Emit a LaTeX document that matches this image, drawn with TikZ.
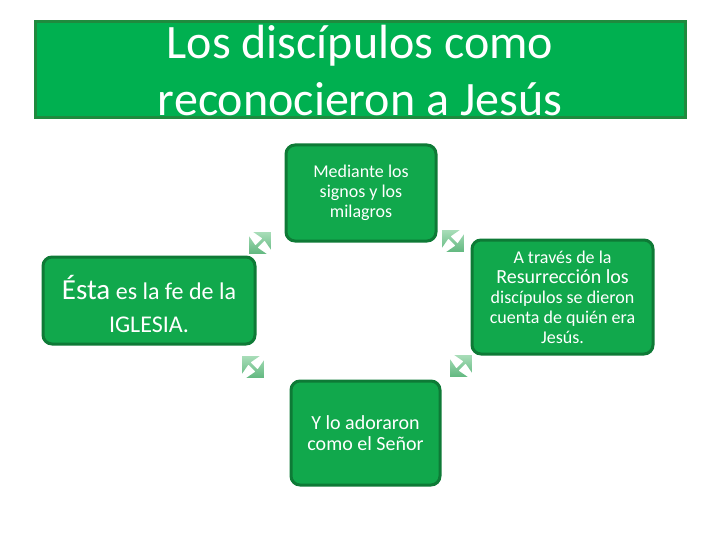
\documentclass[tikz,border=0pt]{standalone}
\usepackage{fontspec}
\setmainfont{Carlito}
\usetikzlibrary{shapes.arrows}
\definecolor{titlegreen}{HTML}{00B050}
\definecolor{titleborder}{HTML}{1F8A3E}
\definecolor{boxgreen}{HTML}{11A84C}
\definecolor{boxborder}{HTML}{0E7A36}
\definecolor{arrlight}{HTML}{A8DDB8}
\definecolor{arrdark}{HTML}{62B880}
\tikzset{
  box/.style={draw=boxborder, line width=3pt, fill=boxgreen, rounded corners=9pt,
    text=white, align=center, inner sep=2pt},
  cyc/.style={double arrow, double arrow head extend=1.5pt, double arrow head indent=2pt, minimum width=25pt,
    minimum height=31pt, inner sep=0pt, draw=none, top color=arrlight, bottom color=arrdark}
}
\begin{document}
\begin{tikzpicture}[x=1pt,y=-1pt]
\useasboundingbox (0,0) rectangle (720,540);
\fill[white] (0,0) rectangle (720,540);
% title
\node[draw=titleborder, line width=3pt, fill=titlegreen, minimum width=650pt, minimum height=96pt, inner sep=0pt] (title) at (360,70) {};
\node[text=white, align=center, font=\fontsize{48}{57}\selectfont] (titletext) at (360,70.5) {Los discípulos como\\reconocieron a Jesús};
% boxes
\node[box, minimum width=150pt, minimum height=96pt, font=\fontsize{18}{20}\selectfont] (top) at (361,193) {Mediante los\\signos y los\\milagros};
\node[box, minimum width=181pt, minimum height=114pt, font=\fontsize{18}{20}\selectfont] (right) at (562.5,297) {A través de la\\{\fontsize{20}{20}\selectfont Resurrección los}\\discípulos se dieron\\cuenta de quién era\\Jesús.};
\node[box, minimum width=212pt, minimum height=87pt] (left) at (149,300.5) {};
\node[text=white, align=center, font=\fontsize{24}{33}\selectfont] (lefttext) at (149,304) {{\fontsize{29}{33}\selectfont Ésta} es la fe de la\\IGLESIA.};
\node[box, minimum width=149pt, minimum height=104pt, font=\fontsize{20}{21.5}\selectfont] (bottom) at (365.5,433) {Y lo adoraron\\como el Señor};
% cycle arrows
\node[cyc, rotate=45] (a1) at (260,243) {};
\node[cyc, rotate=-45] (a2) at (453,241) {};
\node[cyc, rotate=-45] (a3) at (253,367) {};
\node[cyc, rotate=45] (a4) at (461,366) {};
\end{tikzpicture}
\end{document}
